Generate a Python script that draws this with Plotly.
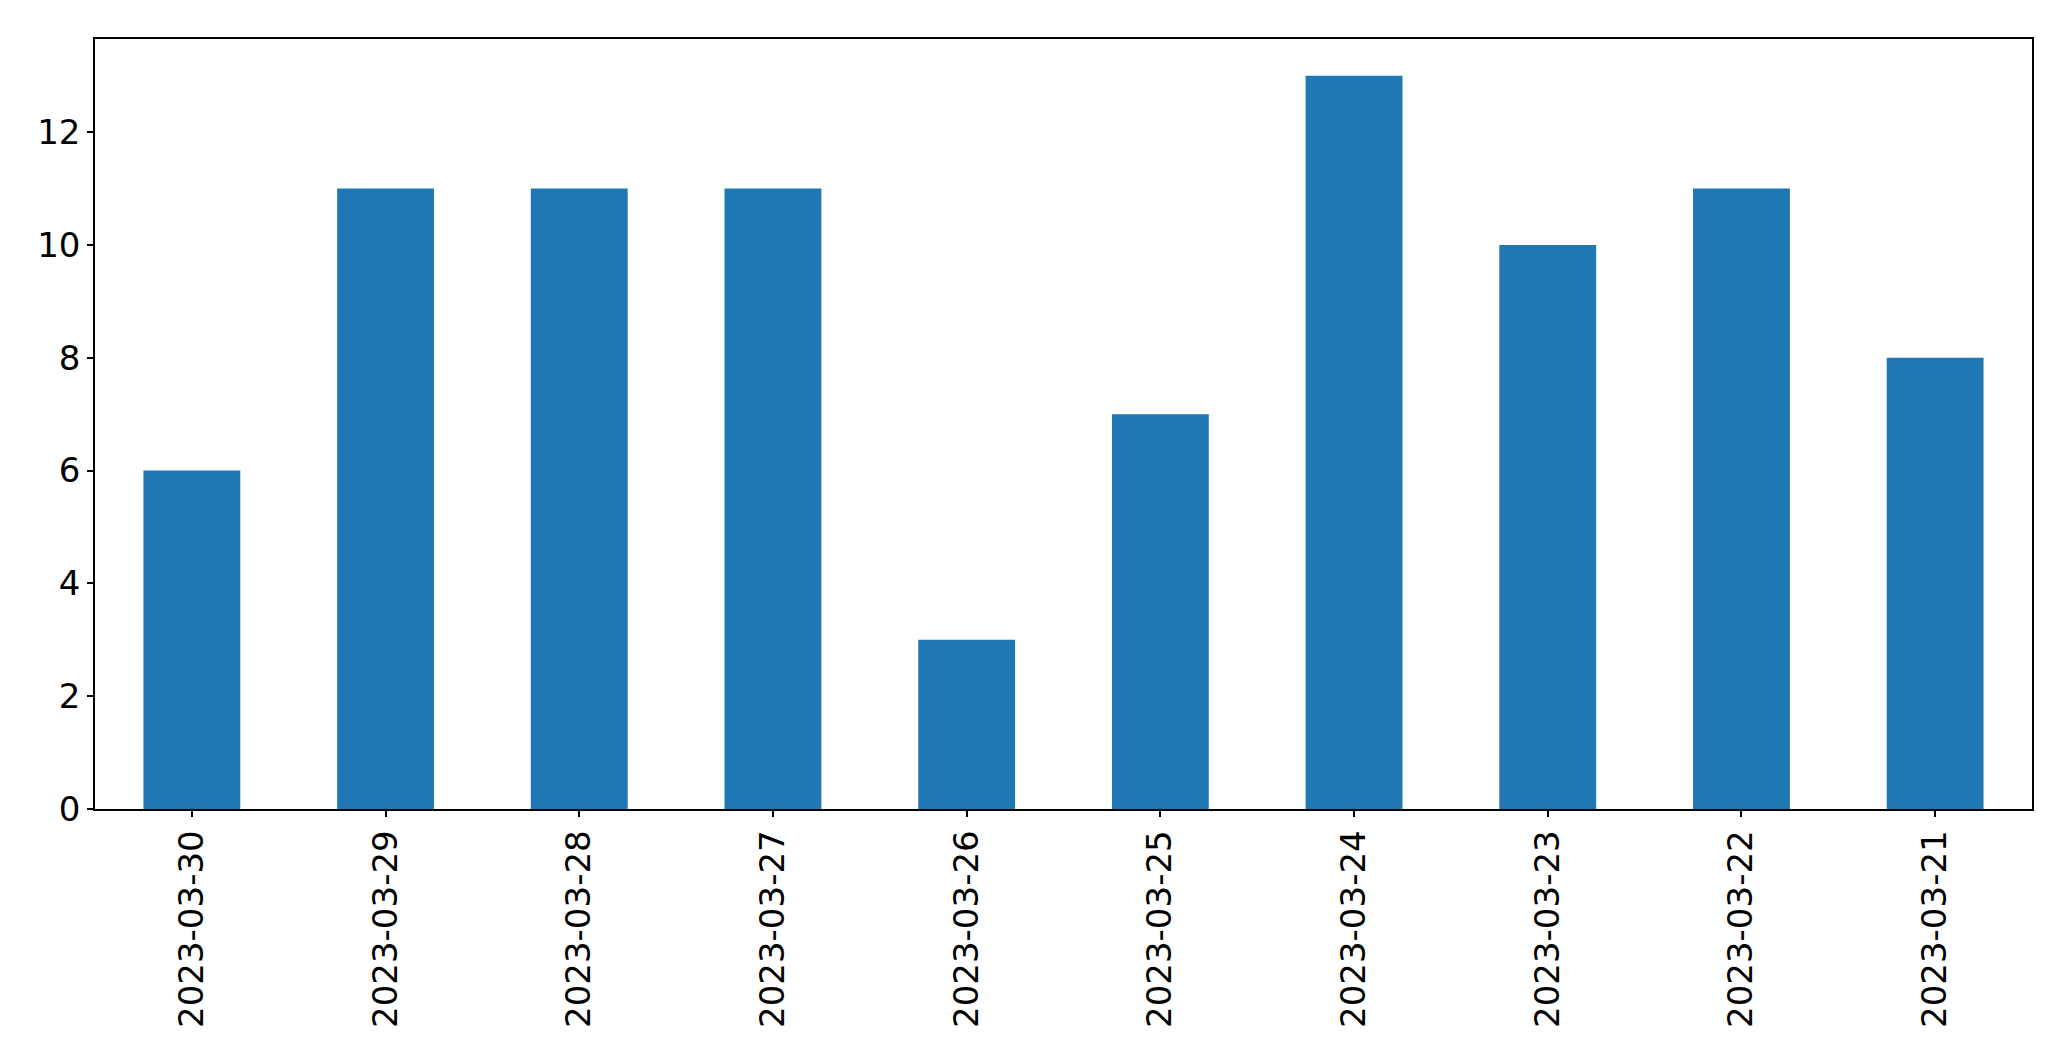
import plotly.graph_objects as go

dates = ["2023-03-30", "2023-03-29", "2023-03-28", "2023-03-27", "2023-03-26",
         "2023-03-25", "2023-03-24", "2023-03-23", "2023-03-22", "2023-03-21"]
counts = [6, 11, 11, 11, 3, 7, 13, 10, 11, 8]
y_ticks = [0, 2, 4, 6, 8, 10, 12]

fig = go.Figure(go.Bar(x=dates, y=counts, marker=dict(color="#1f77b4", line=dict(width=0)), width=0.5))

fig.update_layout(
    width=2071, height=1061,
    margin=dict(l=95, r=39, t=39, b=252),
    paper_bgcolor="white", plot_bgcolor="white",
    font=dict(family="DejaVu Sans", size=34, color="black"),
    showlegend=False,
)
fig.update_xaxes(
    type="category", range=[-0.5, len(dates) - 0.5],
    showline=True, linecolor="black", linewidth=1.5, mirror=True,
    ticks="outside", ticklen=6, tickwidth=1.5, tickcolor="black",
    tickangle=-90, showgrid=False, zeroline=False,
)
fig.update_yaxes(
    range=[0, 13.65], tickvals=y_ticks,
    showline=True, linecolor="black", linewidth=1.5, mirror=True,
    ticks="outside", ticklen=6, tickwidth=1.5, tickcolor="black",
    showgrid=False, zeroline=False,
)
fig.write_html("out.html")
